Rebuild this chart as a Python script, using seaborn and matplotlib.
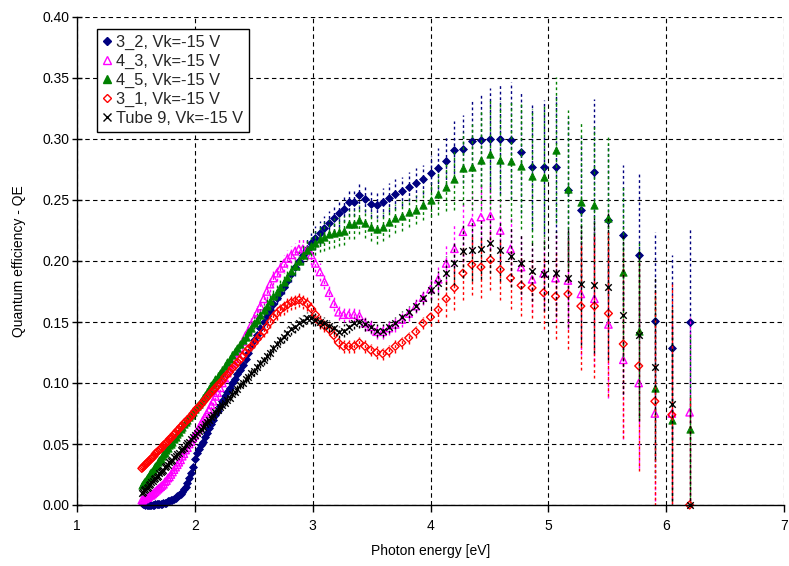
import matplotlib
matplotlib.use("Agg")
import matplotlib.pyplot as plt
import seaborn as sns
import pandas as pd
from matplotlib.lines import Line2D
from matplotlib.ticker import MultipleLocator, FormatStrFormatter

# Photon energy grid [eV]
energy_eV = [
    1.550, 1.560, 1.569, 1.579, 1.590, 1.600, 1.610, 1.621, 1.631, 1.642,
    1.653, 1.664, 1.675, 1.687, 1.698, 1.710, 1.722, 1.734, 1.746, 1.759,
    1.771, 1.784, 1.797, 1.810, 1.823, 1.837, 1.851, 1.864, 1.879, 1.893,
    1.907, 1.922, 1.937, 1.953, 1.968, 1.984, 2.000, 2.016, 2.033, 2.049,
    2.066, 2.084, 2.101, 2.119, 2.138, 2.156, 2.175, 2.194, 2.214, 2.234,
    2.254, 2.275, 2.296, 2.317, 2.339, 2.362, 2.384, 2.407, 2.431, 2.455,
    2.480, 2.505, 2.530, 2.556, 2.583, 2.610, 2.638, 2.666, 2.695, 2.725,
    2.755, 2.786, 2.818, 2.850, 2.883, 2.917, 2.952, 2.988, 3.024, 3.061,
    3.100, 3.139, 3.179, 3.220, 3.263, 3.306, 3.351, 3.397, 3.444, 3.493,
    3.542, 3.594, 3.647, 3.701, 3.757, 3.815, 3.875, 3.936, 4.000, 4.065,
    4.133, 4.203, 4.275, 4.350, 4.428, 4.509, 4.592, 4.679, 4.769, 4.862,
    4.959, 5.061, 5.166, 5.276, 5.391, 5.510, 5.636, 5.767, 5.904, 6.048,
    6.199]

qe_3_2 = [
    0.002, 0.001, 0.001, 0.000, 0.000, 0.000, 0.000, 0.000, 0.000, 0.000,
    0.000, 0.001, 0.001, 0.001, 0.001, 0.001, 0.001, 0.002, 0.002, 0.002,
    0.003, 0.003, 0.004, 0.004, 0.005, 0.006, 0.007, 0.008, 0.009, 0.011,
    0.013, 0.015, 0.018, 0.022, 0.026, 0.031, 0.038, 0.043, 0.046, 0.049,
    0.052, 0.056, 0.059, 0.063, 0.066, 0.070, 0.074, 0.077, 0.081, 0.085,
    0.089, 0.093, 0.096, 0.100, 0.103, 0.107, 0.111, 0.115, 0.120, 0.125,
    0.130, 0.135, 0.139, 0.145, 0.150, 0.155, 0.160, 0.165, 0.170, 0.174,
    0.179, 0.184, 0.189, 0.195, 0.200, 0.205, 0.210, 0.215, 0.219, 0.223,
    0.227, 0.231, 0.235, 0.239, 0.243, 0.248, 0.248, 0.254, 0.251, 0.247,
    0.246, 0.248, 0.252, 0.255, 0.257, 0.261, 0.264, 0.267, 0.272, 0.276,
    0.282, 0.291, 0.292, 0.298, 0.299, 0.300, 0.300, 0.299, 0.289, 0.277,
    0.277, 0.277, 0.258, 0.242, 0.273, 0.234, 0.221, 0.205, 0.151, 0.129,
    0.150]

qe_4_3 = [
    0.004, 0.004, 0.005, 0.005, 0.006, 0.006, 0.007, 0.008, 0.008, 0.009,
    0.010, 0.011, 0.012, 0.013, 0.014, 0.015, 0.016, 0.017, 0.019, 0.020,
    0.022, 0.023, 0.025, 0.027, 0.029, 0.031, 0.033, 0.035, 0.037, 0.040,
    0.042, 0.045, 0.047, 0.050, 0.052, 0.055, 0.057, 0.060, 0.063, 0.066,
    0.069, 0.072, 0.075, 0.078, 0.082, 0.085, 0.089, 0.092, 0.096, 0.100,
    0.104, 0.108, 0.112, 0.116, 0.120, 0.125, 0.129, 0.134, 0.139, 0.143,
    0.148, 0.153, 0.158, 0.163, 0.169, 0.175, 0.181, 0.186, 0.190, 0.194,
    0.198, 0.202, 0.205, 0.208, 0.210, 0.210, 0.209, 0.205, 0.198, 0.191,
    0.183, 0.174, 0.165, 0.158, 0.156, 0.156, 0.156, 0.155, 0.149, 0.146,
    0.142, 0.142, 0.145, 0.148, 0.152, 0.157, 0.163, 0.170, 0.177, 0.185,
    0.198, 0.210, 0.224, 0.232, 0.236, 0.237, 0.225, 0.210, 0.195, 0.185,
    0.190, 0.186, 0.184, 0.173, 0.169, 0.148, 0.119, 0.100, 0.075, 0.075,
    0.076]

qe_4_5 = [
    0.016, 0.017, 0.019, 0.020, 0.022, 0.023, 0.024, 0.026, 0.027, 0.029,
    0.030, 0.032, 0.033, 0.035, 0.037, 0.038, 0.040, 0.042, 0.043, 0.045,
    0.047, 0.049, 0.050, 0.052, 0.054, 0.056, 0.058, 0.060, 0.062, 0.064,
    0.066, 0.068, 0.070, 0.072, 0.074, 0.076, 0.079, 0.081, 0.083, 0.085,
    0.088, 0.090, 0.093, 0.095, 0.098, 0.100, 0.103, 0.106, 0.108, 0.111,
    0.114, 0.117, 0.120, 0.123, 0.126, 0.129, 0.132, 0.135, 0.138, 0.142,
    0.145, 0.149, 0.152, 0.156, 0.160, 0.163, 0.167, 0.171, 0.175, 0.179,
    0.183, 0.187, 0.192, 0.196, 0.200, 0.205, 0.209, 0.212, 0.215, 0.218,
    0.220, 0.222, 0.223, 0.224, 0.225, 0.230, 0.230, 0.234, 0.231, 0.228,
    0.226, 0.228, 0.232, 0.235, 0.237, 0.240, 0.242, 0.246, 0.250, 0.255,
    0.261, 0.267, 0.276, 0.277, 0.283, 0.288, 0.283, 0.282, 0.278, 0.270,
    0.269, 0.291, 0.259, 0.248, 0.246, 0.235, 0.191, 0.143, 0.096, 0.070,
    0.062]

qe_3_1 = [
    0.030, 0.031, 0.032, 0.033, 0.034, 0.035, 0.036, 0.037, 0.038, 0.039,
    0.040, 0.042, 0.043, 0.044, 0.045, 0.046, 0.047, 0.049, 0.050, 0.051,
    0.052, 0.054, 0.055, 0.056, 0.058, 0.059, 0.061, 0.062, 0.064, 0.065,
    0.067, 0.068, 0.070, 0.071, 0.073, 0.075, 0.077, 0.079, 0.080, 0.082,
    0.084, 0.086, 0.088, 0.090, 0.092, 0.094, 0.096, 0.098, 0.100, 0.102,
    0.105, 0.107, 0.109, 0.112, 0.114, 0.117, 0.119, 0.122, 0.125, 0.128,
    0.130, 0.133, 0.136, 0.139, 0.142, 0.146, 0.150, 0.154, 0.157, 0.160,
    0.162, 0.164, 0.166, 0.167, 0.168, 0.167, 0.165, 0.161, 0.156, 0.150,
    0.147, 0.144, 0.139, 0.133, 0.130, 0.130, 0.130, 0.133, 0.130, 0.127,
    0.125, 0.124, 0.126, 0.130, 0.133, 0.137, 0.142, 0.149, 0.154, 0.160,
    0.169, 0.178, 0.190, 0.197, 0.195, 0.201, 0.193, 0.186, 0.180, 0.178,
    0.174, 0.171, 0.173, 0.163, 0.163, 0.157, 0.132, 0.114, 0.085, 0.074,
    0.000]

qe_tube9 = [
    0.010, 0.011, 0.012, 0.013, 0.014, 0.015, 0.016, 0.017, 0.019, 0.020,
    0.021, 0.022, 0.023, 0.024, 0.026, 0.027, 0.028, 0.029, 0.031, 0.032,
    0.033, 0.035, 0.036, 0.037, 0.039, 0.040, 0.042, 0.043, 0.045, 0.046,
    0.047, 0.049, 0.051, 0.052, 0.054, 0.056, 0.057, 0.059, 0.061, 0.062,
    0.064, 0.066, 0.068, 0.070, 0.072, 0.074, 0.076, 0.078, 0.080, 0.082,
    0.084, 0.086, 0.088, 0.091, 0.093, 0.095, 0.098, 0.100, 0.103, 0.105,
    0.108, 0.110, 0.113, 0.116, 0.119, 0.122, 0.125, 0.129, 0.132, 0.135,
    0.138, 0.141, 0.144, 0.146, 0.149, 0.151, 0.153, 0.153, 0.152, 0.150,
    0.149, 0.147, 0.145, 0.142, 0.143, 0.146, 0.149, 0.150, 0.148, 0.146,
    0.143, 0.143, 0.146, 0.149, 0.154, 0.158, 0.163, 0.170, 0.176, 0.182,
    0.190, 0.198, 0.208, 0.209, 0.210, 0.215, 0.209, 0.204, 0.198, 0.192,
    0.189, 0.190, 0.186, 0.181, 0.180, 0.179, 0.156, 0.139, 0.113, 0.083,
    0.000]

# Error bar half-lengths (same grid)
err_3_2 = [
    0.001, 0.001, 0.001, 0.001, 0.001, 0.001, 0.001, 0.001, 0.001, 0.001,
    0.001, 0.001, 0.001, 0.001, 0.001, 0.001, 0.001, 0.001, 0.001, 0.001,
    0.001, 0.001, 0.001, 0.001, 0.001, 0.001, 0.001, 0.001, 0.001, 0.001,
    0.001, 0.002, 0.002, 0.002, 0.002, 0.002, 0.002, 0.002, 0.002, 0.002,
    0.002, 0.002, 0.002, 0.002, 0.002, 0.002, 0.003, 0.003, 0.003, 0.003,
    0.003, 0.003, 0.003, 0.003, 0.003, 0.003, 0.004, 0.004, 0.004, 0.004,
    0.004, 0.004, 0.004, 0.005, 0.005, 0.005, 0.005, 0.005, 0.005, 0.006,
    0.006, 0.006, 0.006, 0.007, 0.007, 0.007, 0.008, 0.008, 0.010, 0.010,
    0.010, 0.010, 0.011, 0.011, 0.011, 0.011, 0.011, 0.011, 0.011, 0.011,
    0.011, 0.012, 0.012, 0.012, 0.012, 0.012, 0.012, 0.012, 0.014, 0.017,
    0.020, 0.024, 0.028, 0.033, 0.038, 0.042, 0.045, 0.048, 0.050, 0.052,
    0.055, 0.058, 0.060, 0.060, 0.060, 0.062, 0.058, 0.068, 0.073, 0.076,
    0.077]

err_4_3 = [
    0.001, 0.001, 0.001, 0.001, 0.001, 0.001, 0.001, 0.001, 0.001, 0.001,
    0.001, 0.001, 0.001, 0.001, 0.001, 0.001, 0.001, 0.001, 0.001, 0.001,
    0.001, 0.001, 0.001, 0.001, 0.001, 0.002, 0.002, 0.002, 0.002, 0.002,
    0.002, 0.002, 0.002, 0.002, 0.002, 0.002, 0.002, 0.002, 0.002, 0.002,
    0.003, 0.003, 0.003, 0.003, 0.003, 0.003, 0.003, 0.003, 0.003, 0.003,
    0.004, 0.004, 0.004, 0.004, 0.004, 0.004, 0.004, 0.004, 0.004, 0.004,
    0.005, 0.005, 0.005, 0.005, 0.005, 0.006, 0.006, 0.006, 0.006, 0.006,
    0.007, 0.007, 0.007, 0.007, 0.008, 0.008, 0.008, 0.008, 0.007, 0.007,
    0.006, 0.006, 0.006, 0.006, 0.006, 0.006, 0.006, 0.006, 0.006, 0.006,
    0.006, 0.006, 0.006, 0.006, 0.006, 0.006, 0.006, 0.006, 0.008, 0.010,
    0.015, 0.020, 0.025, 0.027, 0.027, 0.027, 0.027, 0.027, 0.027, 0.027,
    0.030, 0.035, 0.040, 0.050, 0.055, 0.060, 0.065, 0.070, 0.072, 0.075,
    0.078]

err_4_5 = [
    0.001, 0.001, 0.001, 0.001, 0.001, 0.001, 0.001, 0.001, 0.001, 0.001,
    0.001, 0.001, 0.001, 0.001, 0.001, 0.001, 0.001, 0.001, 0.001, 0.001,
    0.002, 0.002, 0.002, 0.002, 0.002, 0.002, 0.002, 0.002, 0.002, 0.002,
    0.002, 0.002, 0.002, 0.002, 0.002, 0.002, 0.002, 0.002, 0.002, 0.002,
    0.003, 0.003, 0.003, 0.003, 0.003, 0.003, 0.003, 0.003, 0.003, 0.003,
    0.003, 0.003, 0.003, 0.003, 0.003, 0.004, 0.004, 0.004, 0.004, 0.004,
    0.005, 0.005, 0.005, 0.005, 0.005, 0.006, 0.006, 0.006, 0.006, 0.006,
    0.007, 0.007, 0.007, 0.007, 0.007, 0.008, 0.008, 0.008, 0.010, 0.011,
    0.012, 0.012, 0.012, 0.012, 0.012, 0.012, 0.012, 0.012, 0.012, 0.012,
    0.012, 0.012, 0.012, 0.012, 0.012, 0.012, 0.012, 0.012, 0.014, 0.017,
    0.020, 0.025, 0.030, 0.035, 0.040, 0.045, 0.048, 0.050, 0.052, 0.055,
    0.058, 0.060, 0.065, 0.065, 0.066, 0.068, 0.070, 0.072, 0.074, 0.076,
    0.078]

err_3_1 = [
    0.002, 0.002, 0.002, 0.002, 0.002, 0.002, 0.002, 0.002, 0.002, 0.002,
    0.002, 0.002, 0.002, 0.002, 0.002, 0.002, 0.002, 0.002, 0.002, 0.002,
    0.002, 0.002, 0.002, 0.002, 0.002, 0.002, 0.002, 0.002, 0.002, 0.002,
    0.002, 0.002, 0.002, 0.002, 0.002, 0.002, 0.002, 0.002, 0.002, 0.002,
    0.003, 0.003, 0.003, 0.003, 0.003, 0.003, 0.003, 0.003, 0.003, 0.003,
    0.003, 0.003, 0.003, 0.003, 0.003, 0.003, 0.003, 0.003, 0.003, 0.003,
    0.004, 0.004, 0.004, 0.004, 0.004, 0.005, 0.005, 0.005, 0.005, 0.005,
    0.006, 0.006, 0.006, 0.006, 0.006, 0.006, 0.006, 0.006, 0.006, 0.006,
    0.005, 0.005, 0.005, 0.005, 0.005, 0.005, 0.005, 0.005, 0.005, 0.005,
    0.005, 0.005, 0.005, 0.005, 0.005, 0.005, 0.005, 0.005, 0.007, 0.010,
    0.015, 0.018, 0.022, 0.025, 0.025, 0.025, 0.025, 0.025, 0.025, 0.025,
    0.030, 0.035, 0.045, 0.052, 0.059, 0.068, 0.077, 0.086, 0.090, 0.109,
    0.090]

err_tube9 = [
    0.002, 0.002, 0.002, 0.002, 0.002, 0.002, 0.002, 0.002, 0.002, 0.002,
    0.002, 0.002, 0.002, 0.002, 0.002, 0.002, 0.002, 0.002, 0.002, 0.002,
    0.002, 0.002, 0.002, 0.002, 0.002, 0.002, 0.002, 0.002, 0.002, 0.002,
    0.002, 0.002, 0.002, 0.002, 0.002, 0.002, 0.002, 0.002, 0.002, 0.002,
    0.003, 0.003, 0.003, 0.003, 0.003, 0.003, 0.003, 0.003, 0.003, 0.003,
    0.003, 0.003, 0.003, 0.003, 0.003, 0.003, 0.003, 0.003, 0.003, 0.003,
    0.004, 0.004, 0.004, 0.004, 0.004, 0.004, 0.004, 0.004, 0.004, 0.004,
    0.005, 0.005, 0.005, 0.005, 0.005, 0.005, 0.005, 0.005, 0.005, 0.005,
    0.005, 0.005, 0.005, 0.005, 0.005, 0.005, 0.005, 0.005, 0.005, 0.005,
    0.005, 0.005, 0.005, 0.005, 0.005, 0.005, 0.005, 0.005, 0.008, 0.010,
    0.014, 0.018, 0.022, 0.025, 0.025, 0.025, 0.025, 0.025, 0.025, 0.025,
    0.030, 0.035, 0.040, 0.050, 0.055, 0.060, 0.065, 0.070, 0.075, 0.080,
    0.080]

series_labels = ["3_2, Vk=-15 V", "4_3, Vk=-15 V", "4_5, Vk=-15 V",
                 "3_1, Vk=-15 V", "Tube 9, Vk=-15 V"]
series_values = [qe_3_2, qe_4_3, qe_4_5, qe_3_1, qe_tube9]
series_errors = [err_3_2, err_4_3, err_4_5, err_3_1, err_tube9]

x_ticks = [1, 2, 3, 4, 5, 6, 7]
x_label = "Photon energy [eV]"
y_label = "Quantum efficiency - QE"

for v, e in zip(series_values, series_errors):
    assert len(v) == len(energy_eV) and len(e) == len(energy_eV)

# styles: (marker, colour, filled, size)
styles = [
    ("D", "#000080", True, 16),
    ("^", "#FF00FF", False, 28),
    ("^", "#008000", True, 28),
    ("D", "#FF0000", False, 16),
    ("x", "#000000", None, 22),
]

sns.set_theme(style="white")
plt.rcParams["font.family"] = ["Liberation Sans", "DejaVu Sans"]

fig = plt.figure(figsize=(7.89, 5.66), dpi=100)
ax = fig.add_axes([77 / 789, 1 - 505 / 566, (784 - 77) / 789, (505 - 17) / 566])

rows = []
for lab, vals in zip(series_labels, series_values):
    for xv, yv in zip(energy_eV, vals):
        rows.append({"series": lab, "E": xv, "QE": yv})
df = pd.DataFrame(rows)

handles = []
for i, (lab, vals, errs, st) in enumerate(zip(series_labels, series_values, series_errors, styles)):
    marker, col, filled, size = st
    eb = ax.errorbar(energy_eV, vals, yerr=errs, fmt="none", ecolor=col,
                     elinewidth=1.0, capsize=0, zorder=2 + 2 * i)
    for lc in eb.lines[2]:
        lc.set_linestyle((0, (2, 2)))
    sub = df[df["series"] == lab]
    if marker == "x":
        kw = dict(color=col, linewidth=1.0)
    elif filled:
        kw = dict(facecolor=col, edgecolor=col, linewidth=0.6)
    else:
        kw = dict(facecolor="none", edgecolor=col, linewidth=1.0)
    sns.scatterplot(data=sub, x="E", y="QE", marker=marker, s=size, ax=ax,
                    legend=False, zorder=3 + 2 * i, clip_on=False, **kw)
    if marker == "x":
        h = Line2D([], [], linestyle="none", marker="x", color=col, markersize=5.5,
                   markeredgewidth=1.0)
    elif filled:
        h = Line2D([], [], linestyle="none", marker=marker, color=col,
                   markerfacecolor=col, markeredgecolor=col,
                   markersize=5.5 if marker == "^" else 4.2)
    else:
        h = Line2D([], [], linestyle="none", marker=marker, markerfacecolor="none",
                   markeredgecolor=col, markersize=5.5 if marker == "^" else 4.2,
                   markeredgewidth=1.0)
    handles.append(h)

ax.set_xlim(1, 7)
ax.set_ylim(0, 0.40)
ax.set_xticks(x_ticks)
ax.yaxis.set_major_locator(MultipleLocator(0.05))
ax.yaxis.set_major_formatter(FormatStrFormatter("%.2f"))
ax.grid(True, color="black", linestyle=(0, (4, 3)), linewidth=0.8)
ax.set_axisbelow(True)

for side in ["top", "right"]:
    ax.spines[side].set_visible(False)
for side in ["left", "bottom"]:
    ax.spines[side].set_color("black")
    ax.spines[side].set_linewidth(1.0)
    ax.spines[side].set_zorder(20)

ax.tick_params(axis="y", direction="inout", length=7, width=1, color="black",
               labelsize=10, labelcolor="black", left=True, pad=2)
ax.tick_params(axis="x", direction="out", length=5, width=1, color="black",
               labelsize=10, labelcolor="black", bottom=True, pad=5)

ax.set_xlabel(x_label, fontsize=10, color="black", labelpad=8)
ax.set_ylabel(y_label, fontsize=10, color="black", labelpad=12)

leg = ax.legend(handles, series_labels, loc="upper left",
                bbox_to_anchor=(0.028, 0.975), borderaxespad=0,
                fontsize=11.8, frameon=True, fancybox=False, framealpha=1,
                edgecolor="black", handlelength=0.6, handletextpad=0.25,
                labelspacing=0.24, borderpad=0.35)
leg.get_frame().set_linewidth(1.0)
leg.set_zorder(30)

fig.savefig("out.png", dpi=100)
